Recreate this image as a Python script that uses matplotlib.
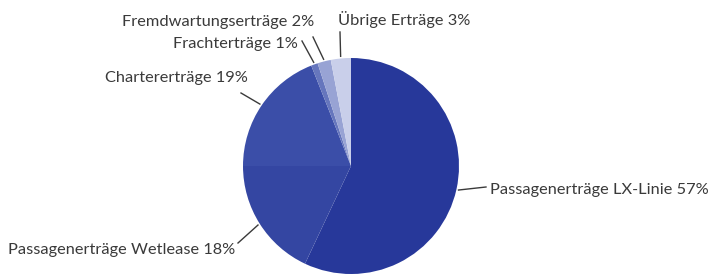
import numpy as np
import matplotlib
matplotlib.use("Agg")
import matplotlib.pyplot as plt

labels = ["Passagenerträge LX-Linie", "Passagenerträge Wetlease", "Chartererträge",
          "Frachterträge", "Fremdwartungserträge", "Übrige Erträge"]
values = [57, 18, 19, 1, 2, 3]
colors = ["#27389a", "#3446a2", "#3b4ea8", "#6676bd", "#98a3d4", "#c9cfea"]

# label layout (pixel coords, y from top): text anchor position, alignment, leader end
label_pos = [(490, 190, "left"), (235, 250, "right"), (248, 78, "right"),
             (298, 44, "right"), (314, 22, "right"), (338, 20, "left")]
leader_end = [(486, 187), (238, 243), (241, 93), (302, 41), (313, 37), (340, 32)]

W, H = 711, 276
fig = plt.figure(figsize=(W / 100, H / 100), dpi=100)
ax = fig.add_axes([0, 0, 1, 1])

cx, cy, r = 351, H - 166, 108
wedges, _ = ax.pie(values, colors=colors, startangle=90, counterclock=False,
                   center=(cx, cy), radius=r, frame=True,
                   wedgeprops=dict(linewidth=0))
ax.set_xlim(0, W)
ax.set_ylim(0, H)
ax.set_aspect("equal")
ax.axis("off")

cum = np.cumsum([0] + values)
for i, (lab, v) in enumerate(zip(labels, values)):
    mid = (cum[i] + cum[i + 1]) / 2 / sum(values) * 2 * np.pi
    px = cx + r * 1.02 * np.sin(mid)
    py = cy + r * 1.02 * np.cos(mid)
    ex, ey = leader_end[i]
    ax.plot([px, ex], [py, H - ey], color="#3a3a3a", lw=1.0)
    tx, ty, ha = label_pos[i]
    ax.text(tx, H - ty, f"{lab} {v}%", ha=ha, va="center", fontsize=11.8,
            family="Lato", color="#3a3a3a")

fig.savefig("out.png", dpi=100)
